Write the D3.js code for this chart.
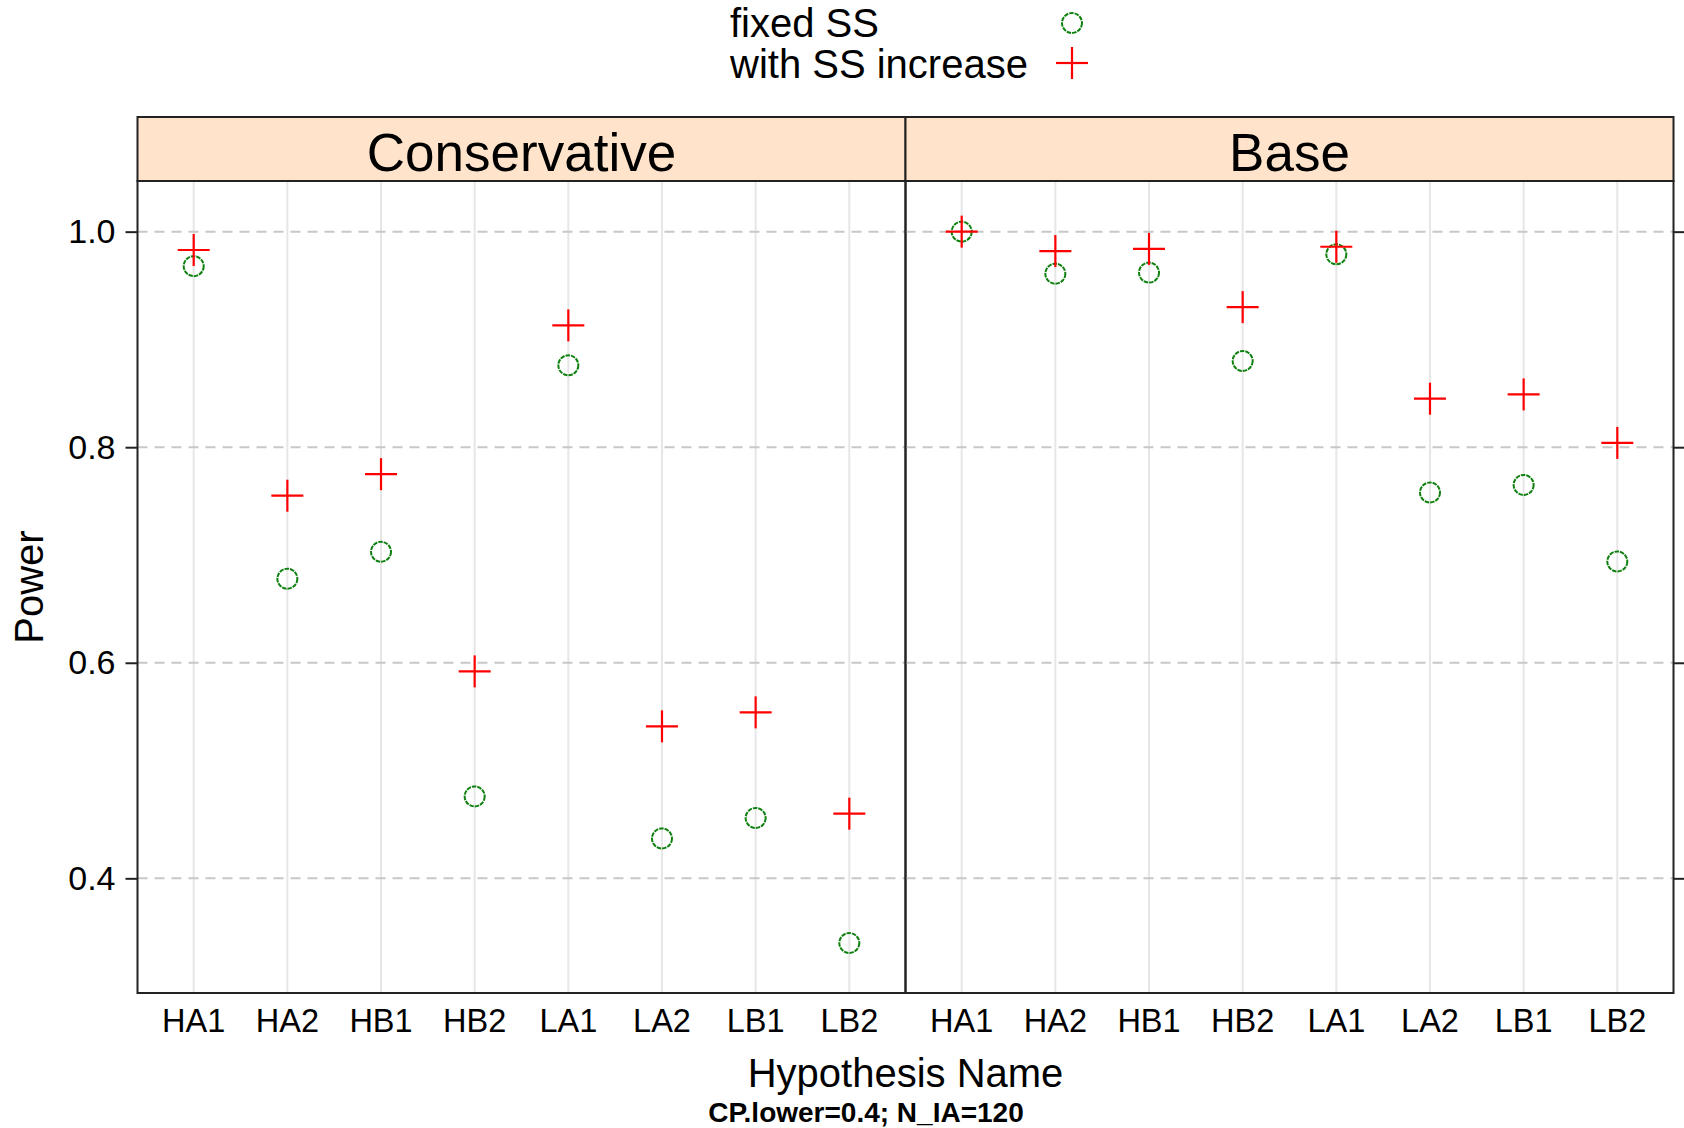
<!DOCTYPE html>
<html>
<head>
<meta charset="utf-8">
<script src="https://cdn.jsdelivr.net/npm/d3@7"></script>
<style>
  body { margin: 0; background: #fff; }
  text { font-family: "Liberation Sans", Arial, sans-serif; fill: #000; }
</style>
</head>
<body>
<svg id="chart" width="1684" height="1128"></svg>
<script>
// datos
const hypotheses = ["HA1", "HA2", "HB1", "HB2", "LA1", "LA2", "LB1", "LB2"];
const panels = ["Conservative", "Base"];
const fixedConservative = [0.968, 0.678, 0.703, 0.476, 0.876, 0.437, 0.456, 0.340];
const increaseConservative = [0.983, 0.755, 0.775, 0.592, 0.913, 0.541, 0.554, 0.460];
const fixedBase = [1.0, 0.961, 0.962, 0.880, 0.979, 0.758, 0.765, 0.694];
const increaseBase = [1.0, 0.982, 0.984, 0.930, 0.986, 0.845, 0.849, 0.804];
const yTicks = [0.4, 0.6, 0.8, 1.0];
const legendLabels = ["fixed SS", "with SS increase"];

const panelData = [
    { fixed: fixedConservative, increase: increaseConservative },
    { fixed: fixedBase, increase: increaseBase }
];

const svg = d3.select("#chart");

// Dimensiones
const left = 137.5, right = 1673.5;
const stripTop = 117, stripBottom = 181, panelBottom = 993;
const panelWidth = (right - left) / panels.length;

const y = d3.scaleLinear()
    .domain([0.2936, 1.047])
    .range([panelBottom, stripBottom]);

const green = "#0f800f";
const red = "#ff0000";

panels.forEach((name, p) => {
    const x0 = left + p * panelWidth;
    const x = d3.scalePoint()
        .domain(hypotheses)
        .range([x0, x0 + panelWidth])
        .padding(0.6);

    const g = svg.append("g");

    // lineas verticales de referencia
    g.selectAll(".vgrid")
        .data(hypotheses)
        .enter()
        .append("line")
        .attr("x1", d => x(d))
        .attr("x2", d => x(d))
        .attr("y1", stripBottom)
        .attr("y2", panelBottom)
        .attr("stroke", "#e6e6e6")
        .attr("stroke-width", 2);

    // lineas horizontales discontinuas
    g.selectAll(".hgrid")
        .data(yTicks)
        .enter()
        .append("line")
        .attr("x1", x0)
        .attr("x2", x0 + panelWidth)
        .attr("y1", d => y(d))
        .attr("y2", d => y(d))
        .attr("stroke", "#c8c8c8")
        .attr("stroke-width", 2)
        .attr("stroke-dasharray", "10,7");

    // puntos: circulos (fixed SS)
    g.selectAll(".fixed")
        .data(panelData[p].fixed)
        .enter()
        .append("circle")
        .attr("cx", (d, i) => x(hypotheses[i]))
        .attr("cy", d => y(d))
        .attr("r", 10)
        .attr("fill", "none")
        .attr("stroke", green)
        .attr("stroke-width", 2)
        .attr("stroke-dasharray", "4.5,1");

    // cruces (with SS increase)
    const plus = g.selectAll(".increase")
        .data(panelData[p].increase)
        .enter()
        .append("g")
        .attr("transform", (d, i) => `translate(${x(hypotheses[i])},${y(d)})`);
    plus.append("line")
        .attr("x1", -16).attr("x2", 16)
        .attr("stroke", red).attr("stroke-width", 2.2);
    plus.append("line")
        .attr("y1", -16).attr("y2", 16)
        .attr("stroke", red).attr("stroke-width", 2.2);

    // etiquetas del eje x
    g.selectAll(".xlab")
        .data(hypotheses)
        .enter()
        .append("text")
        .attr("x", d => x(d))
        .attr("y", 1032)
        .attr("text-anchor", "middle")
        .style("font-size", "32.5px")
        .text(d => d);

    // strip
    g.append("rect")
        .attr("x", x0)
        .attr("y", stripTop)
        .attr("width", panelWidth)
        .attr("height", stripBottom - stripTop)
        .attr("fill", "#ffe4cb")
        .attr("stroke", "#222")
        .attr("stroke-width", 2);
    g.append("text")
        .attr("x", x0 + panelWidth / 2)
        .attr("y", 171)
        .attr("text-anchor", "middle")
        .style("font-size", "53px")
        .text(name);

    // borde del panel
    g.append("rect")
        .attr("x", x0)
        .attr("y", stripBottom)
        .attr("width", panelWidth)
        .attr("height", panelBottom - stripBottom)
        .attr("fill", "none")
        .attr("stroke", "#222")
        .attr("stroke-width", 2);
});

// eje y izquierdo
svg.append("g")
    .attr("transform", `translate(${left},0)`)
    .call(d3.axisLeft(y).tickValues(yTicks).tickFormat(d3.format(".1f")).tickSize(12).tickPadding(10))
    .call(a => a.select(".domain").remove())
    .call(a => a.selectAll("line").attr("stroke", "#222").attr("stroke-width", 2))
    .call(a => a.selectAll("text").style("font-size", "34px").style("font-family", "Liberation Sans, Arial, sans-serif").attr("fill", "#000"));

// ticks a la derecha sin etiquetas
svg.append("g")
    .attr("transform", `translate(${right},0)`)
    .call(d3.axisRight(y).tickValues(yTicks).tickFormat("").tickSize(12))
    .call(a => a.select(".domain").remove())
    .call(a => a.selectAll("line").attr("stroke", "#222").attr("stroke-width", 2));

// titulos de ejes
svg.append("text")
    .attr("transform", `translate(43,${(stripBottom + panelBottom) / 2}) rotate(-90)`)
    .attr("text-anchor", "middle")
    .style("font-size", "40px")
    .text("Power");

svg.append("text")
    .attr("x", (left + right) / 2)
    .attr("y", 1087)
    .attr("text-anchor", "middle")
    .style("font-size", "40px")
    .text("Hypothesis Name");

svg.append("text")
    .attr("x", 866)
    .attr("y", 1122)
    .attr("text-anchor", "middle")
    .style("font-size", "28px")
    .style("font-weight", "bold")
    .text("CP.lower=0.4; N_IA=120");

// leyenda
const legend = svg.append("g");
legend.selectAll("text")
    .data(legendLabels)
    .enter()
    .append("text")
    .attr("x", 730)
    .attr("y", (d, i) => 37 + i * 41)
    .style("font-size", "40px")
    .text(d => d);
legend.append("circle")
    .attr("cx", 1072).attr("cy", 23).attr("r", 10)
    .attr("fill", "none").attr("stroke", green).attr("stroke-width", 2)
    .attr("stroke-dasharray", "4.5,1");
legend.append("line")
    .attr("x1", 1056).attr("x2", 1088).attr("y1", 63).attr("y2", 63)
    .attr("stroke", red).attr("stroke-width", 2.2);
legend.append("line")
    .attr("x1", 1072).attr("x2", 1072).attr("y1", 47).attr("y2", 79)
    .attr("stroke", red).attr("stroke-width", 2.2);
</script>
</body>
</html>
